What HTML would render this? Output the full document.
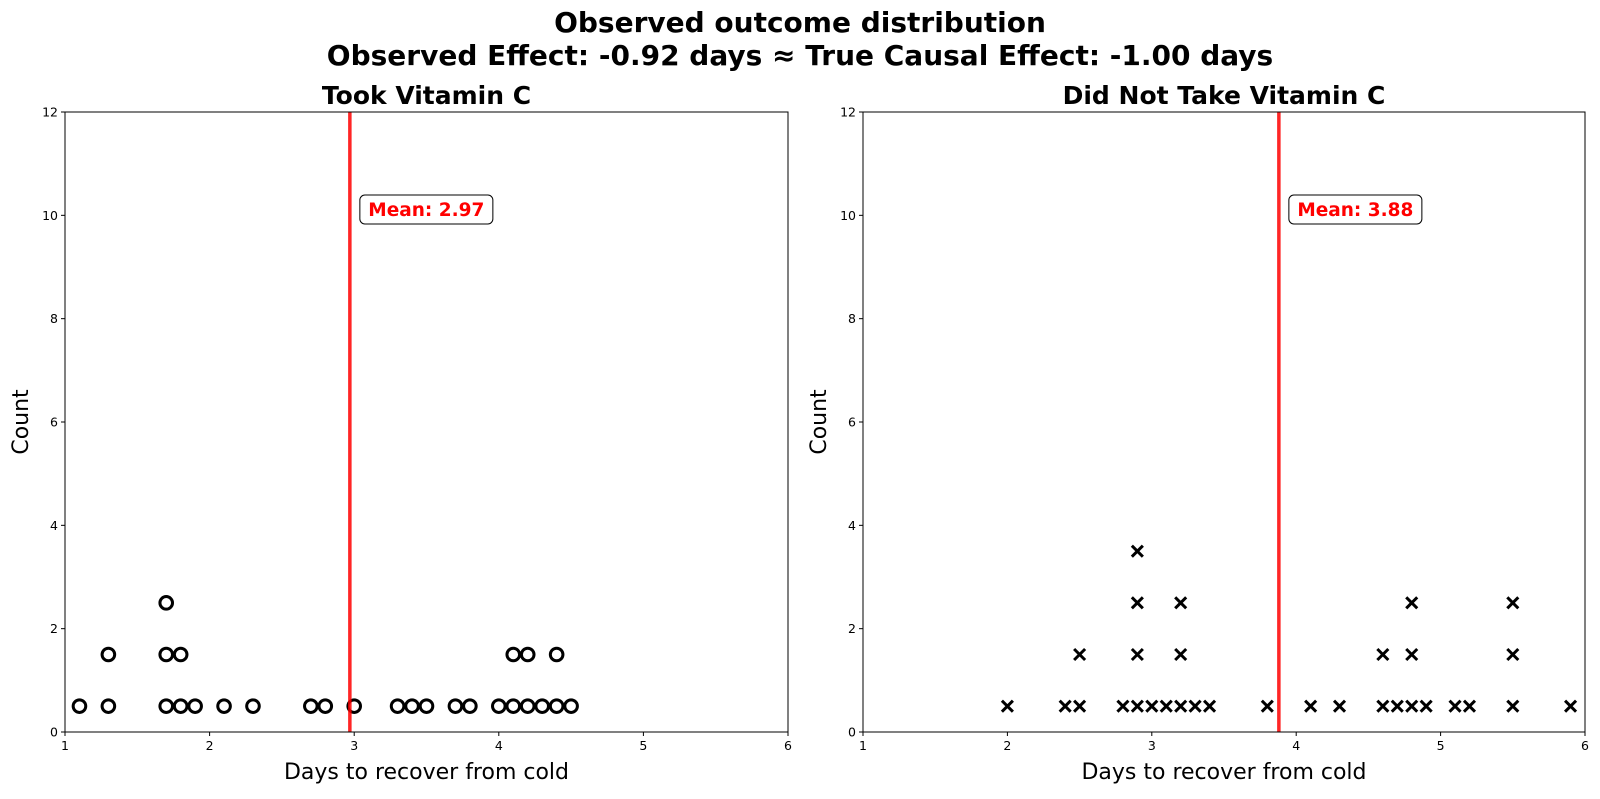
<!DOCTYPE html>
<html><head><meta charset="utf-8"><style>
body{margin:0;background:#fff}
svg text{font-family:"DejaVu Sans","Liberation Sans",sans-serif}
</style></head><body>
<svg id="s" xmlns="http://www.w3.org/2000/svg" width="1600" height="794" viewBox="0 0 1600 794">
<rect width="1600" height="794" fill="#fff"/>
<text x="800" y="32" font-size="28" font-weight="bold" text-anchor="middle">Observed outcome distribution</text>
<text x="800" y="65" font-size="28" font-weight="bold" text-anchor="middle">Observed Effect: -0.92 days ≈ True Causal Effect: -1.00 days</text>
<g id="g"></g>
</svg>
<script>
const g=document.getElementById('g');let h='';
const T=112,B=732,ys=(B-T)/12;
function panel(L,R,title,mean,rows,circ){
 const xs=(R-L)/5,X=v=>L+(v-1)*xs,Y=v=>B-v*ys;
 h+=`<text x="${(L+R)/2}" y="104" font-size="25" font-weight="bold" text-anchor="middle">${title}</text>`;
 for(let i=0;i<=6;i++){const y=Y(i*2);h+=`<line x1="${L-4}" x2="${L}" y1="${y}" y2="${y}" stroke="#000"/><text x="${L-7}" y="${y+4.5}" font-size="12.5" text-anchor="end">${i*2}</text>`;}
 for(let i=1;i<=6;i++){const x=X(i);h+=`<line x1="${x}" x2="${x}" y1="${B}" y2="${B+4}" stroke="#000"/><text x="${x}" y="${B+18}" font-size="12.5" text-anchor="middle">${i}</text>`;}
 h+=`<text x="${(L+R)/2}" y="779" font-size="22" text-anchor="middle">Days to recover from cold</text>`;
 h+=`<text transform="translate(${L-37},${(T+B)/2}) rotate(-90)" font-size="22" text-anchor="middle">Count</text>`;
 rows.forEach((r,i)=>r.forEach(v=>{const x=X(v),y=Y(i+0.5);
  if(circ)h+=`<circle cx="${x}" cy="${y}" r="6.3" fill="none" stroke="#000" stroke-width="3"/>`;
  else h+=`<path d="M${x-5.5},${y-5.5}L${x+5.5},${y+5.5}M${x-5.5},${y+5.5}L${x+5.5},${y-5.5}" stroke="#000" stroke-width="3"/>`;}));
 const mx=X(mean);
 h+=`<line x1="${mx}" x2="${mx}" y1="${T}" y2="${B}" stroke="#f00" stroke-width="3.5" opacity="0.85"/>`;
 h+=`<rect x="${mx+10}" y="195" width="133" height="29" rx="5" fill="#fff" stroke="#000" stroke-width="1"/>`;
 h+=`<text x="${mx+76.5}" y="216" font-size="18.5" font-weight="bold" fill="#f00" text-anchor="middle">Mean: ${mean.toFixed(2)}</text>`;
 h+=`<rect x="${L}" y="${T}" width="${R-L}" height="${B-T}" fill="none" stroke="#000" stroke-width="1"/>`;
}
panel(65,788,'Took Vitamin C',2.97,[
 [1.1,1.3,1.7,1.8,1.9,2.1,2.3,2.7,2.8,3.0,3.3,3.4,3.5,3.7,3.8,4.0,4.1,4.2,4.3,4.4,4.5],
 [1.3,1.7,1.8,4.1,4.2,4.4],[1.7]],true);
panel(863,1585,'Did Not Take Vitamin C',3.88,[
 [2.0,2.4,2.5,2.8,2.9,3.0,3.1,3.2,3.3,3.4,3.8,4.1,4.3,4.6,4.7,4.8,4.9,5.1,5.2,5.5,5.9],
 [2.5,2.9,3.2,4.6,4.8,5.5],[2.9,3.2,4.8,5.5],[2.9]],false);
g.innerHTML=h;
</script>
</body></html>
